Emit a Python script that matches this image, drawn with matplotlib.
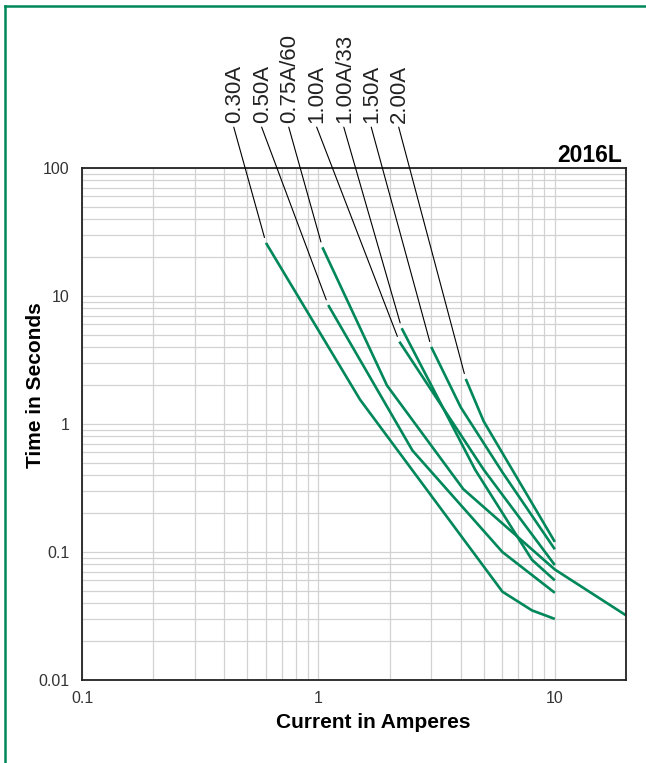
import numpy as np
import matplotlib
matplotlib.use("Agg")
import matplotlib.pyplot as plt
from matplotlib.ticker import LogLocator, NullFormatter
from matplotlib.lines import Line2D

plt.rcParams['font.family'] = ['Liberation Sans', 'DejaVu Sans']

# fuse ratings, in the order the labels stand on top
ratings = ["0.30A", "0.50A", "0.75A/60", "1.00A", "1.00A/33", "1.50A", "2.00A"]

# current (A) / time (s)
cur_030 = [0.6, 1.5, 6.0, 8.0, 10.0]
t_030 = [26.0, 1.55, 0.049, 0.035, 0.030]
cur_050 = [1.1, 2.5, 6.0, 10.0]
t_050 = [8.5, 0.62, 0.100, 0.048]
cur_075 = [1.04, 1.95, 4.1, 10.0, 20.0]
t_075 = [24.0, 2.0, 0.31, 0.073, 0.032]
cur_100 = [2.2, 5.0, 10.0]
t_100 = [4.4, 0.44, 0.079]
cur_100_33 = [2.25, 4.6, 8.0, 10.0]
t_100_33 = [5.6, 0.44, 0.087, 0.060]
cur_150 = [3.0, 4.0, 6.0, 10.0]
t_150 = [4.0, 1.35, 0.42, 0.105]
cur_200 = [4.2, 5.0, 10.0]
t_200 = [2.25, 1.05, 0.120]

curves = [(cur_030, t_030), (cur_050, t_050), (cur_075, t_075),
          (cur_100, t_100), (cur_100_33, t_100_33), (cur_150, t_150),
          (cur_200, t_200)]

x_ticks = [0.1, 1, 10]
x_tick_labels = ["0.1", "1", "10"]
y_ticks = [0.01, 0.1, 1, 10, 100]
y_tick_labels = ["0.01", "0.1", "1", "10", "100"]

green = '#00875a'
W, H = 646, 763

fig = plt.figure(figsize=(W / 100, H / 100), dpi=100)
ax = fig.add_axes([82 / W, 83 / H, 544 / W, 512 / H])

for x, y in curves:
    ax.plot(x, y, color=green, lw=1.9, solid_capstyle='butt')

ax.set_xscale('log')
ax.set_yscale('log')
ax.set_xlim(0.1, 20)
ax.set_ylim(0.01, 100)
ax.set_xticks(x_ticks)
ax.set_xticklabels(x_tick_labels)
ax.set_yticks(y_ticks)
ax.set_yticklabels(y_tick_labels)
ax.xaxis.set_minor_locator(LogLocator(base=10, subs=np.arange(2, 10), numticks=20))
ax.yaxis.set_minor_locator(LogLocator(base=10, subs=np.arange(2, 10), numticks=20))
ax.xaxis.set_minor_formatter(NullFormatter())
ax.yaxis.set_minor_formatter(NullFormatter())
ax.grid(True, which='both', color='#d2d2d2', lw=0.9)
ax.set_axisbelow(True)
ax.tick_params(which='both', length=0, labelsize=11.5, labelcolor='#333333')
ax.tick_params(axis='y', pad=9)
ax.tick_params(axis='x', pad=8)
for s in ax.spines.values():
    s.set_color('#222222')
    s.set_linewidth(1.3)

# rotated rating labels with leader lines to the start of each curve
for i, (name, (x, y)) in enumerate(zip(ratings, curves)):
    ax.annotate(name, xy=(x[0], y[0]), xycoords='data',
                xytext=((234.7 + 27.5 * i) / W, 1 - 123 / H),
                textcoords='figure fraction', rotation=90,
                ha='center', va='bottom', fontsize=16, color='#222222',
                annotation_clip=False,
                arrowprops=dict(arrowstyle='-', color='black', lw=0.8,
                                shrinkA=1, shrinkB=4, relpos=(0.4, 0)))

fig.text(622 / W, 1 - 162 / H, '2016L', ha='right', va='baseline',
         fontsize=16.5, fontweight='bold')
fig.text(373 / W, 1 - 722 / H, 'Current in Amperes', ha='center', va='center',
         fontsize=15, fontweight='bold')
fig.text(36 / W, 1 - 385 / H, 'Time in Seconds', ha='center', va='center',
         rotation=90, fontsize=15, fontweight='bold')

# green frame on the left and top
fig.add_artist(Line2D([5 / W, 5 / W], [0, 1 - 6 / H], transform=fig.transFigure,
                      color=green, lw=1.8))
fig.add_artist(Line2D([5 / W, 1], [1 - 6 / H, 1 - 6 / H], transform=fig.transFigure,
                      color=green, lw=1.8))

fig.savefig('out.png', dpi=100)
